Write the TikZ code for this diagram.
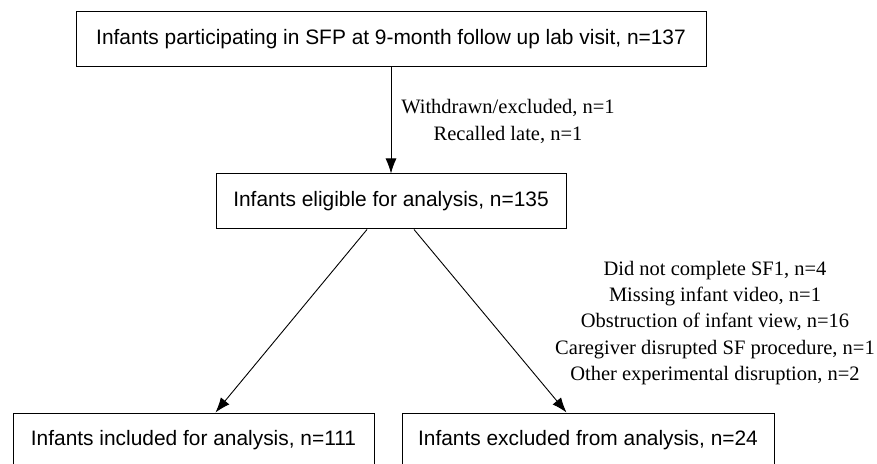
\documentclass[tikz,border=0pt]{standalone}
\usepackage{fontspec}
\setmainfont{Liberation Serif}
\newfontfamily\boxfont{Liberation Sans}
\usetikzlibrary{arrows.meta}
\begin{document}
\begin{tikzpicture}[x=1pt,y=1pt,
  box/.style={draw=black, line width=1pt, minimum height=55pt, inner sep=0pt,
    font=\boxfont\fontsize{20.9}{25}\selectfont},
  lbl/.style={align=center, inner sep=0pt, font=\fontsize{20.5}{26.2}\selectfont},
  arr/.style={line width=0.9pt, -{Latex[length=15pt,width=11pt]}}]
\useasboundingbox (0,0) rectangle (877,463);
\clip (0,0) rectangle (877,463);
\node[box, minimum width=630pt] (b1) at (391,423.5) {Infants participating in SFP at 9-month follow up lab visit, n=137};
\node[box, minimum width=350pt] (b2) at (391,261.5) {Infants eligible for analysis, n=135};
\node[box, minimum width=361pt] (b3) at (193.5,22.5) {Infants included for analysis, n=111};
\node[box, minimum width=372pt] (b4) at (588,22.5) {Infants excluded from analysis, n=24};
\node[lbl] (l1) at (508,341.5) {Withdrawn/excluded, n=1\\Recalled late, n=1};
\node[lbl] (l2) at (715,140) {Did not complete SF1, n=4\\Missing infant video, n=1\\Obstruction of infant view, n=16\\Caregiver disrupted SF procedure, n=1\\Other experimental disruption, n=2};
\draw[arr] (b1.south) -- (b2.north);
\draw[arr] ([xshift=-24pt]b2.south) -- ([xshift=203pt]b3.north west);
\draw[arr] ([xshift=23pt]b2.south) -- ([xshift=165pt]b4.north west);
\end{tikzpicture}
\end{document}
